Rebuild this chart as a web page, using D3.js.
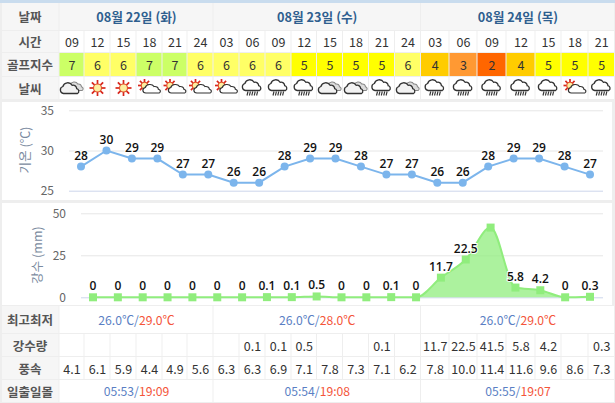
<!doctype html>
<html>
  <head>
    <meta charset="utf-8">
    <title>골프 날씨</title>
    <script src="https://cdnjs.cloudflare.com/ajax/libs/d3/7.8.5/d3.min.js"></script>
    <style>
      html, body { margin: 0; padding: 0; background: #fff; overflow: hidden; }
      svg { display: block; }
      text { font-family: "Noto Sans CJK KR", "Noto Sans", sans-serif; }
      .num { font-family: "Open Sans", sans-serif; }
    </style>
  </head>
  <body>
    <div id="chart"></div>
    <script>
      // chart values
      const dayLabels = ["08월 22일 (화)", "08월 23일 (수)", "08월 24일 (목)"];
      const dayCounts = [6, 8, 7];
      const hours = ["09","12","15","18","21","24","03","06","09","12","15","18","21","24","03","06","09","12","15","18","21"];
      const golfIndex = [7,6,6,7,7,6,6,6,6,5,5,5,5,6,4,3,2,4,5,5,5];
      const weather = ["cloudy","sun","sun","partly","partly","partly","partly","rain","rain","rain","cloudy","cloudy","rain","cloudy","rain","rain","rain","rain","rain","partly","rain"];
      const temps = [28,30,29,29,27,27,26,26,28,29,29,28,27,27,26,26,28,29,29,28,27];
      const rain = [0,0,0,0,0,0,0,0.1,0.1,0.5,0,0,0.1,0,11.7,22.5,41.5,5.8,4.2,0,0.3];
      const rainCells = ["","","","","","","","0.1","0.1","0.5","","","0.1","","11.7","22.5","41.5","5.8","4.2","","0.3"];
      const wind = ["4.1","6.1","5.9","4.4","4.9","5.6","6.3","6.3","6.9","7.1","7.8","7.3","7.1","6.2","7.8","10.0","11.4","11.6","9.6","8.6","7.3"];
      const tempRange = [["26.0℃","29.0℃"],["26.0℃","28.0℃"],["26.0℃","29.0℃"]];
      const sunTimes = [["05:53","19:09"],["05:54","19:08"],["05:55","19:07"]];
      const tempTicks = [25,30,35];
      const rainTicks = [0,25,50];

      const width = 615, height = 403;
      const blue = "#5b7fc4", red = "#f4553a";
      const golfColor = d3.scaleOrdinal([7,6,5,4,3,2], ["#ccff66","#ffff66","#ffff00","#ffcc00","#ff9933","#ff6600"]);

      // table column edges, the columns are not all the same width
      const edges = [59.5,84.5,110.5,136.5,162.5,187.5,213.5,239.5,265.5,291.5,317,343,369,395,421,449.5,477.5,506.5,535.5,561.5,588.5,615];
      const colMid = i => (edges[i] + edges[i + 1]) / 2;

      const svg = d3.select("#chart").append("svg").attr("width", width).attr("height", height);
      svg.append("rect").attr("width", width).attr("height", height).attr("fill", "#eeeeee");
      svg.append("rect").attr("width", width).attr("height", 3).attr("fill", "#c9dcee");

      function cell(x0, x1, y0, y1, fill) {
        svg.append("rect").attr("x", x0).attr("y", y0)
          .attr("width", x1 - x0 - 1).attr("height", y1 - y0 - 1).attr("fill", fill);
      }
      function label(x, y, str, color, size, weight) {
        return svg.append("text").attr("x", x).attr("y", y).attr("text-anchor", "middle")
          .attr("dominant-baseline", "central").attr("fill", color)
          .attr("font-size", size).attr("font-weight", weight || 400).text(str);
      }
      function rowLabel(y0, y1, str) {
        cell(2, 59.5, y0, y1, "#f6f6f6");
        label(30, (y0 + y1) / 2 - 0.5, str, "#555", 12.5, 700);
      }

      // day start index for the spanning rows
      const dayStart = d3.cumsum([0].concat(dayCounts));
      function spanRow(y0, y1, draw, fill) {
        dayLabels.forEach((d, i) => {
          const x0 = edges[dayStart[i]], x1 = edges[dayStart[i + 1]];
          cell(x0, x1, y0, y1, fill);
          draw(i, (x0 + x1) / 2, (y0 + y1) / 2 - 0.5);
        });
      }
      function pairText(x, y, pair) {
        const t = label(x, y, null, blue, 12.2);
        t.append("tspan").text(pair[0] + "/");
        t.append("tspan").attr("fill", red).text(pair[1]);
      }

      // upper table
      rowLabel(3, 31, "날짜");
      spanRow(3, 31, (i, x, y) => label(x, y, dayLabels[i], "#2f5f8f", 12.7, 700), "#f6f6f6");

      rowLabel(31, 53, "시간");
      hours.forEach((d, i) => {
        cell(edges[i], edges[i + 1], 31, 53, "#fff");
        label(colMid(i), 41.5, d, "#333", 12.5);
      });

      rowLabel(53, 77, "골프지수");
      golfIndex.forEach((d, i) => {
        cell(edges[i], edges[i + 1], 53, 77, golfColor(d));
        label(colMid(i), 64.5, d, "#333", 12.5);
      });

      rowLabel(77, 100, "날씨");
      const icons = {
        cloudShape(g, fill, stroke) {
          g.append("path")
            .attr("d", "M-7 4.5 a3.6 3.6 0 0 1 -.6 -7 a5 5 0 0 1 9.2 -1.2 a3.6 3.6 0 0 1 4.6 3.4 a2.6 2.6 0 0 1 .8 4.8 z")
            .attr("fill", fill).attr("stroke", stroke).attr("stroke-width", 1.3);
        },
        sunShape(g, x, y, r, rays) {
          d3.range(8).forEach(k => {
            const a = k * Math.PI / 4;
            g.append("line")
              .attr("x1", x + Math.cos(a) * r).attr("y1", y + Math.sin(a) * r)
              .attr("x2", x + Math.cos(a) * rays).attr("y2", y + Math.sin(a) * rays)
              .attr("stroke", "#d8261c").attr("stroke-width", 1.7);
          });
          g.append("circle").attr("cx", x).attr("cy", y).attr("r", r)
            .attr("fill", "#fdeea0").attr("stroke", "#e0502a").attr("stroke-width", 1.1);
        },
        sun(g) { icons.sunShape(g, 0, 0, 4, 8); },
        partly(g) {
          icons.sunShape(g, -5, -2.5, 3.2, 6.5);
          const c = g.append("g").attr("transform", "translate(3,1.5) scale(.95,.8)");
          icons.cloudShape(c, "#fff", "#333");
        },
        cloudy(g) {
          const back = g.append("g").attr("transform", "translate(4.5,-1) scale(.8)");
          icons.cloudShape(back, "#ddd", "#888");
          const c = g.append("g").attr("transform", "translate(-1.5,1)");
          icons.cloudShape(c, "#f2f2f2", "#333");
        },
        rain(g) {
          const c = g.append("g").attr("transform", "translate(0,-2)");
          icons.cloudShape(c, "#fff", "#333");
          d3.range(5).forEach(k => {
            g.append("line").attr("x1", -4.5 + k * 2.4).attr("x2", -5.5 + k * 2.4)
              .attr("y1", 3.5).attr("y2", 7.5)
              .attr("stroke", "#333").attr("stroke-width", 1.1);
          });
        }
      };
      weather.forEach((d, i) => {
        cell(edges[i], edges[i + 1], 77, 100, "#fff");
        icons[d](svg.append("g").attr("transform", `translate(${colMid(i)},88)`));
      });

      // temperature chart
      cell(2, 613, 102, 201, "#fff");
      const xTemp = d3.scalePoint().domain(d3.range(temps.length)).range([81, 590]);
      const yTemp = d3.scaleLinear().domain([25, 35]).range([190.7, 110.3]);

      function yAxis(scale, ticks, left) {
        const g = svg.append("g").attr("transform", `translate(${left},0)`)
          .call(d3.axisLeft(scale).tickValues(ticks).tickSize(left - 603).tickPadding(15));
        g.select(".domain").remove();
        g.selectAll("line").attr("stroke", d => d === ticks[0] ? "#ccd6eb" : "#e6e6e6");
        g.selectAll("text").attr("fill", "#666").attr("font-size", 12)
          .attr("font-family", "'Open Sans', sans-serif");
      }
      function yTitle(str, x, yMid) {
        svg.append("text").attr("transform", `translate(${x},${yMid}) rotate(-90)`)
          .attr("text-anchor", "middle").attr("dominant-baseline", "central")
          .attr("fill", "#7a8aa0").attr("font-size", 12.5).text(str);
      }

      yAxis(yTemp, tempTicks, 69);
      yTitle("기온 (℃)", 24, 150);

      svg.append("path").datum(temps)
        .attr("fill", "none").attr("stroke", "#7cb5ec").attr("stroke-width", 2)
        .attr("d", d3.line().x((d, i) => xTemp(i)).y(d => yTemp(d)));
      svg.append("g").selectAll("circle").data(temps).join("circle")
        .attr("cx", (d, i) => xTemp(i)).attr("cy", d => yTemp(d))
        .attr("r", 4).attr("fill", "#7cb5ec");
      svg.append("g").selectAll("text").data(temps).join("text")
        .attr("class", "num")
        .attr("x", (d, i) => xTemp(i)).attr("y", d => yTemp(d) - 7)
        .attr("text-anchor", "middle").attr("font-size", 12).attr("font-weight", 600)
        .attr("fill", "#111").attr("stroke", "#fff").attr("stroke-width", 2)
        .attr("paint-order", "stroke").text(d => d);

      // rainfall chart
      cell(2, 613, 203, 306, "#fff");
      const xRain = d3.scalePoint().domain(d3.range(rain.length)).range([93, 590]);
      const yRain = d3.scaleLinear().domain([0, 50]).range([297.3, 213.3]);

      yAxis(yRain, rainTicks, 81);
      yTitle("강수 (mm)", 36, 255);

      svg.append("path").datum(rain)
        .attr("fill", "#90ed7d").attr("fill-opacity", 0.75)
        .attr("d", d3.area().curve(d3.curveMonotoneX)
          .x((d, i) => xRain(i)).y0(yRain(0)).y1(d => yRain(d)));
      svg.append("path").datum(rain)
        .attr("fill", "none").attr("stroke", "#90ed7d").attr("stroke-width", 2)
        .attr("d", d3.line().curve(d3.curveMonotoneX)
          .x((d, i) => xRain(i)).y(d => yRain(d)));
      svg.append("g").selectAll("rect").data(rain).join("rect")
        .attr("x", (d, i) => xRain(i) - 4).attr("y", d => yRain(d) - 4)
        .attr("width", 8).attr("height", 8).attr("fill", "#90ed7d");
      // the label of the peak is hidden in the original chart
      svg.append("g").selectAll("text").data(rain).join("text")
        .attr("class", "num")
        .attr("x", (d, i) => xRain(i)).attr("y", d => yRain(d) - 7)
        .attr("text-anchor", "middle").attr("font-size", 12).attr("font-weight", 600)
        .attr("fill", "#111").attr("stroke", "#fff").attr("stroke-width", 2)
        .attr("paint-order", "stroke").text(d => d === d3.max(rain) ? "" : d);

      // lower table
      rowLabel(306, 334, "최고최저");
      spanRow(306, 334, (i, x, y) => pairText(x, y, tempRange[i]), "#fff");

      rowLabel(334, 357, "강수량");
      rainCells.forEach((d, i) => {
        cell(edges[i], edges[i + 1], 334, 357, "#fff");
        label(colMid(i), 345, d, "#333", 12.5);
      });

      rowLabel(357, 380, "풍속");
      wind.forEach((d, i) => {
        cell(edges[i], edges[i + 1], 357, 380, "#fff");
        label(colMid(i), 368, d, "#333", 12.5);
      });

      rowLabel(380, 403, "일출일몰");
      spanRow(380, 403, (i, x, y) => pairText(x, y, sunTimes[i]), "#fff");
    </script>
  </body>
</html>
